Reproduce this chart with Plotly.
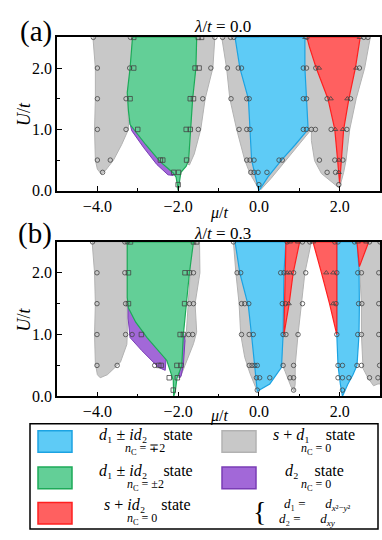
import plotly.graph_objects as go

W, H = 382, 540
SERIF = "Liberation Serif"

# ---- phase colours ----
BLUE, BLUE_LINE = "#5ECBF6", "#1CA3E2"
GREEN, GREEN_LINE = "#63CF97", "#1DAA58"
RED, RED_LINE = "#FF6060", "#FF1F1F"
GRAY, GRAY_LINE = "#C8C8C8", "#B2B2B2"
PURPLE, PURPLE_LINE = "#A268D8", "#7A3DB5"

U_LEVELS = [2.5, 2.0, 1.5, 1.0, 0.5, 0.3, 0.1]

# ---- panel (a): lambda/t = 0.0, phase boundaries (mu/t, U/t) ----
a_gray_1 = [(-4.11, 2.5), (-4.05, 2.0), (-4.05, 1.5), (-4.07, 1.0), (-4.05, 0.5), (-4.0, 0.35),
            (-3.9, 0.27), (-3.8, 0.33), (-3.6, 0.5), (-3.4, 0.75), (-3.23, 1.0), (-3.24, 1.5),
            (-3.17, 2.0), (-3.12, 2.5)]
a_gray_2 = [(-1.6, 2.5), (-1.09, 2.5), (-1.14, 2.0), (-1.33, 1.5), (-1.44, 1.0), (-1.6, 0.6),
            (-1.72, 0.42), (-1.8, 0.45), (-1.7, 1.0), (-1.6, 2.0)]
a_gray_3 = [(-0.92, 2.5), (-0.8, 2.0), (-0.72, 1.5), (-0.55, 1.0), (-0.35, 0.5), (-0.22, 0.28),
            (-0.02, 0.05), (0.1, 0.2), (0.0, 1.0), (0.0, 2.5)]
a_gray_4 = [(1.1, 2.5), (2.76, 2.5), (2.62, 2.0), (2.41, 1.5), (2.25, 1.0), (2.16, 0.5), (2.1, 0.3),
            (2.0, 0.05), (1.96, 0.06), (1.55, 0.28), (1.38, 0.49), (1.3, 0.82), (1.3, 1.0),
            (0.64, 0.47), (0.3, 0.2), (0.05, 0.02), (0.0, 0.2), (1.1, 1.1)]
a_purple = [(-3.21, 1.15), (-3.15, 0.98), (-2.85, 0.7), (-2.53, 0.43), (-2.25, 0.26), (-2.12, 0.25),
            (-2.0, 0.35), (-2.5, 0.6), (-3.1, 1.2)]
a_green = [(-3.13, 2.5), (-1.54, 2.5), (-1.56, 2.0), (-1.64, 1.5), (-1.69, 1.0), (-1.74, 0.5),
           (-1.8, 0.4), (-1.93, 0.3), (-1.95, 0.22), (-1.97, 0.1), (-2.0, 0.0), (-2.02, 0.1),
           (-2.05, 0.22), (-2.12, 0.29), (-2.44, 0.47), (-2.8, 0.75), (-3.19, 1.08), (-3.23, 1.3),
           (-3.26, 1.6), (-3.19, 2.0), (-3.15, 2.3)]
a_blue = [(-0.59, 2.5), (1.14, 2.5), (1.14, 2.0), (1.18, 1.5), (1.22, 1.0), (0.9, 0.75), (0.56, 0.5),
          (0.23, 0.23), (0.02, 0.03), (0.0, 0.0), (-0.02, 0.05), (-0.1, 0.29), (-0.18, 0.5),
          (-0.22, 1.0), (-0.26, 1.5), (-0.47, 2.0)]
a_red = [(1.19, 2.5), (2.51, 2.5), (2.39, 2.0), (2.23, 1.5), (2.10, 1.0), (2.04, 0.5), (2.0, 0.12),
         (1.95, 0.5), (1.88, 1.0), (1.71, 1.5), (1.42, 2.0), (1.25, 2.35)]

# sampled points, one list per U level
a_circles = [[-4.1, -3.18, -1.09, -0.9, -0.7, -0.62, 1.19, 2.6, 2.7],
             [-4.0, -3.2, -1.19, -0.78, -0.51, -0.43, 1.1, 1.18, 1.41, 2.49],
             [-4.0, -3.29, -1.39, -0.69, -0.30, -0.24, 1.1, 1.18, 1.69, 2.27],
             [-4.0, -3.29, -1.5, -0.49, -0.3, -0.22, 1.1, 1.18, 1.3, 1.4, 1.79, 2.18],
             [-4.0, -3.68, -0.3, -0.22, -0.12, 0.5, 0.58, 1.5, 1.88, 2.08],
             [-3.87, -0.2, -0.12, -0.02, 0.2, 1.69, 1.9],
             [0.0, 1.98]]
a_squares = [[-3.1, -1.5, -1.42],
             [-3.1, -1.58, -1.48],
             [-3.19, -1.70, -1.62],
             [-3.0, -1.8, -1.7],
             [-2.44, -2.38, -1.79],
             [-2.11, -1.99],
             [-2.0]]
a_triangles = [[1.15, 2.5], [1.49, 2.41], [1.78, 2.19], [1.89, 2.08], [1.98], [1.98], []]

# ---- panel (b): lambda/t = 0.3 ----
b_gray_1 = [(-4.13, 2.5), (-4.07, 2.0), (-4.05, 1.5), (-4.07, 1.0), (-4.05, 0.53), (-4.0, 0.35),
            (-3.93, 0.3), (-3.75, 0.35), (-3.43, 0.55), (-3.27, 0.84), (-3.26, 1.0), (-3.26, 2.5)]
b_gray_2 = [(-1.7, 2.5), (-1.47, 2.5), (-1.46, 2.0), (-1.58, 1.5), (-1.54, 1.04), (-1.62, 0.85),
            (-1.83, 0.5), (-1.95, 0.3), (-2.0, 0.35), (-1.8, 1.0), (-1.7, 2.0)]
b_gray_3 = [(-0.63, 2.5), (-0.57, 2.0), (-0.49, 1.5), (-0.45, 1.0), (-0.35, 0.63), (-0.22, 0.37),
            (-0.07, 0.13), (-0.03, 0.08), (0.0, 0.5), (-0.2, 2.5)]
b_gray_4 = [(0.62, 2.5), (1.3, 2.5), (1.14, 2.0), (1.05, 1.5), (0.97, 1.0), (0.9, 0.5), (0.9, 0.2),
            (0.87, 0.08), (0.8, 0.15), (0.65, 0.4), (0.56, 0.55), (0.58, 1.0), (0.6, 2.0)]
b_gray_5 = [(2.45, 2.5), (3.2, 2.5), (3.2, 0.2), (2.95, 0.2), (2.84, 0.17), (2.7, 0.3), (2.58, 0.45),
            (2.54, 1.0), (2.54, 1.5), (2.5, 2.0), (2.45, 2.3)]
b_purple_1 = [(-3.24, 1.45), (-3.24, 1.27), (-3.19, 0.95), (-2.9, 0.74), (-2.49, 0.47), (-2.32, 0.42),
              (-2.3, 0.6), (-2.8, 1.0), (-3.2, 1.5)]
b_purple_2 = [(-1.87, 1.05), (-1.83, 0.9), (-1.87, 0.5), (-1.93, 0.32), (-1.98, 0.3), (-1.95, 0.5),
              (-1.92, 1.0)]
b_green = [(-3.26, 2.5), (-1.62, 2.5), (-1.72, 2.0), (-1.8, 1.5), (-1.87, 1.0), (-1.91, 0.5),
           (-2.03, 0.29), (-2.07, 0.08), (-2.11, 0.0), (-2.12, 0.26), (-2.28, 0.58), (-2.77, 0.95),
           (-3.05, 1.2), (-3.23, 1.43), (-3.26, 1.6), (-3.26, 2.0)]
b_blue_1 = [(-0.59, 2.5), (0.67, 2.5), (0.62, 2.0), (0.6, 1.0), (0.56, 0.47), (0.27, 0.2),
            (-0.04, 0.08), (-0.1, 0.5), (-0.18, 0.98), (-0.26, 1.46), (-0.47, 1.99)]
b_blue_2 = [(1.93, 2.5), (2.43, 2.5), (2.48, 2.05), (2.49, 1.5), (2.48, 1.0), (2.43, 0.5), (2.33, 0.35),
            (2.2, 0.19), (2.07, 0.0), (2.02, 0.19), (1.96, 0.5), (1.93, 1.0)]
b_red_1 = [(0.67, 2.5), (1.01, 2.5), (0.85, 2.0), (0.75, 1.5), (0.62, 1.0), (0.64, 1.5), (0.66, 2.0)]
b_red_2 = [(1.34, 2.5), (1.93, 2.5), (1.93, 1.0), (1.75, 1.5), (1.55, 2.0)]
b_red_3 = [(2.43, 2.5), (2.72, 2.5), (2.49, 2.1), (2.46, 2.3)]

b_circles = [[-4.12, -3.32, -3.26, -0.63, 0.7, 1.08, 1.26, 1.88, 1.96, 2.37, 2.74, 3.0],
             [-4.01, -3.32, -1.62, -0.54, -0.45, 0.54, 0.62, 0.86, 1.16, 1.93, 2.45, 2.54, 2.97],
             [-4.01, -3.3, -1.72, -1.62, -0.43, -0.35, -0.25, 0.58, 0.66, 1.08, 1.91, 2.47, 2.55, 2.97],
             [-4.01, -3.3, -3.14, -1.74, -1.64, -0.43, -0.24, -0.14, 0.6, 0.67, 0.97, 1.93, 2.45,
              2.54, 2.97],
             [-4.01, -3.51, -2.58, -0.24, -0.17, -0.1, -0.04, 0.6, 0.86, 1.96, 2.07, 2.43, 2.54, 2.99],
             [-0.06, 0.02, 0.27, 0.77, 0.86, 1.96, 2.07, 2.23, 2.74, 2.95],
             [-0.04, 0.86, 2.07]]
b_squares = [[-3.18, -1.62, -1.54],
             [-3.23, -1.83, -1.72],
             [-3.23, -1.84],
             [-2.91, -1.95, -1.87],
             [-2.48, -2.42, -2.03, -1.93],
             [-2.22, -2.02],
             [-2.12]]
b_triangles = [[0.77, 0.97, 1.34, 2.45, 2.66], [0.7, 0.77, 1.67, 1.84], [0.74, 1.84], [], [], [], []]


def region(pts, fill, line, xa, ya, width=1.0):
    xs = [p[0] for p in pts] + [pts[0][0]]
    ys = [p[1] for p in pts] + [pts[0][1]]
    return go.Scatter(x=xs, y=ys, mode="lines", fill="toself", fillcolor=fill,
                      line=dict(color=line, width=width), xaxis=xa, yaxis=ya,
                      hoverinfo="skip", showlegend=False)


def points(levels, symbol, xa, ya):
    xs, ys = [], []
    for u, row in zip(U_LEVELS, levels):
        xs += row
        ys += [u] * len(row)
    return go.Scatter(x=xs, y=ys, mode="markers", xaxis=xa, yaxis=ya, showlegend=False,
                      hoverinfo="skip",
                      marker=dict(symbol=symbol, size=4.5, color="#444444", line=dict(width=0.8)))


fig = go.Figure()
panels = [
    ("x", "y", [a_gray_1, a_gray_2, a_gray_3, a_gray_4], [a_purple], [a_green], [a_blue], [a_red],
     a_circles, a_squares, a_triangles),
    ("x2", "y2", [b_gray_1, b_gray_2, b_gray_3, b_gray_4, b_gray_5], [b_purple_1, b_purple_2],
     [b_green], [b_blue_1, b_blue_2], [b_red_1, b_red_2, b_red_3], b_circles, b_squares, b_triangles),
]
for xa, ya, grays, purples, greens, blues, reds, circ, sq, tri in panels:
    for g in grays:
        fig.add_trace(region(g, GRAY, GRAY_LINE, xa, ya))
    for p in purples:
        fig.add_trace(region(p, PURPLE, PURPLE_LINE, xa, ya))
    for g in greens:
        fig.add_trace(region(g, GREEN, GREEN_LINE, xa, ya, 1.2))
    for b in blues:
        fig.add_trace(region(b, BLUE, BLUE_LINE, xa, ya, 1.2))
    for r in reds:
        fig.add_trace(region(r, RED, RED_LINE, xa, ya, 1.2))
    fig.add_trace(points(circ, "circle-open", xa, ya))
    fig.add_trace(points(sq, "square-open", xa, ya))
    fig.add_trace(points(tri, "triangle-up-open", xa, ya))

axis_style = dict(showline=True, linecolor="black", linewidth=1.5, mirror=True, ticks="inside",
                  ticklen=5, tickwidth=1.2, tickcolor="black", showgrid=False, zeroline=False,
                  tickfont=dict(family=SERIF, size=16, color="black"))
x_ticks = dict(range=[-5, 3], domain=[57 / W, 380 / W], tickvals=[-4, -2, 0, 2],
               ticktext=["\u22124.0", "\u22122.0", "0.0", "2.0"],
               minor=dict(tickvals=[-3, -1, 1], ticks="inside", ticklen=3, tickcolor="black"))
y_ticks = dict(range=[0, 2.5], tickvals=[0, 1, 2], ticktext=["0.0", "1.0", "2.0"],
               minor=dict(tickvals=[0.5, 1.5], ticks="inside", ticklen=3, tickcolor="black"))

fig.update_layout(
    width=W, height=H, margin=dict(l=0, r=0, t=0, b=0),
    paper_bgcolor="white", plot_bgcolor="white",
    xaxis=dict(**axis_style, **x_ticks, anchor="y"),
    yaxis=dict(**axis_style, **y_ticks, domain=[1 - 194 / H, 1 - 38 / H], anchor="x"),
    xaxis2=dict(**axis_style, **x_ticks, anchor="y2"),
    yaxis2=dict(**axis_style, **y_ticks, domain=[1 - 403 / H, 1 - 246 / H], anchor="x2"),
)


def note(text, x, y, size, **kw):
    fig.add_annotation(text=text, x=x / W, y=1 - y / H, xref="paper", yref="paper",
                       xanchor="center", yanchor="middle", showarrow=False, borderpad=0,
                       font=dict(family=SERIF, size=size, color="black"), **kw)


# panel labels, titles, axis titles
note("(a)", 36, 32, 29)
note("(b)", 35, 237, 29)
note("<i>\u03bb</i>/<i>t</i> = 0.0", 222, 27, 17)
note("<i>\u03bb</i>/<i>t</i> = 0.3", 222, 237, 17)
note("<i>\u03bc</i>/<i>t</i>", 219, 217, 16)
note("<i>\u03bc</i>/<i>t</i>", 219, 423, 16)
note("<i>U</i>/<i>t</i>", 24, 116, 18, textangle=-90)
note("<i>U</i>/<i>t</i>", 24, 325, 18, textangle=-90)

# legend box
fig.add_shape(type="rect", xref="paper", yref="paper", x0=30 / W, x1=378 / W,
              y0=1 - 538 / H, y1=1 - 431 / H, line=dict(color="black", width=1.5))
swatches = [(38, 438, BLUE, BLUE_LINE), (38, 475, GREEN, GREEN_LINE), (38, 511, RED, RED_LINE),
            (222, 438, GRAY, GRAY_LINE), (222, 475, PURPLE, PURPLE_LINE)]
for sx, sy, fc, lc in swatches:
    fig.add_shape(type="rect", xref="paper", yref="paper", x0=sx / W, x1=(sx + 34) / W,
                  y0=1 - (sy + 22) / H, y1=1 - sy / H, fillcolor=fc, line=dict(color=lc, width=1.5))

SP = "\u2002"
d1 = "<i>d</i>\u2081"
d2 = "<i>d</i>\u2082"
nc = "<i>n</i><sub>C</sub>"
note(f"{d1} \u00b1 <i>i</i>{d2}{SP}{SP}state", 146, 442, 16)
note(f"{nc} = \u22132", 145, 457, 12)
note(f"{d1} \u00b1 <i>i</i>{d2}{SP}{SP}state", 146, 478, 16)
note(f"{nc} = \u00b12", 145, 493, 12)
note(f"<i>s</i> + <i>i</i>{d2}{SP}{SP}state", 147, 513, 16)
note(f"{nc} = 0", 142, 528, 12)
note(f"<i>s</i> + {d1}{SP}{SP}state", 314, 442, 16)
note(f"{nc} = 0", 316, 457, 12)
note(f"{d2}{SP}{SP}state", 314, 478, 16)
note(f"{nc} = 0", 316, 493, 12)
note("{", 259, 520, 28)
note(f"{d1} ={SP}{SP}{SP}<i>d</i><sub><i>x</i>\u00b2\u2212<i>y</i>\u00b2</sub>", 317, 513, 13)
note(f"{d2} ={SP}{SP}{SP}<i>d</i><sub><i>xy</i></sub>", 307, 528, 13)

fig.write_html("out.html", config={"displayModeBar": False},
               post_script="document.body.style.margin='0px';")
